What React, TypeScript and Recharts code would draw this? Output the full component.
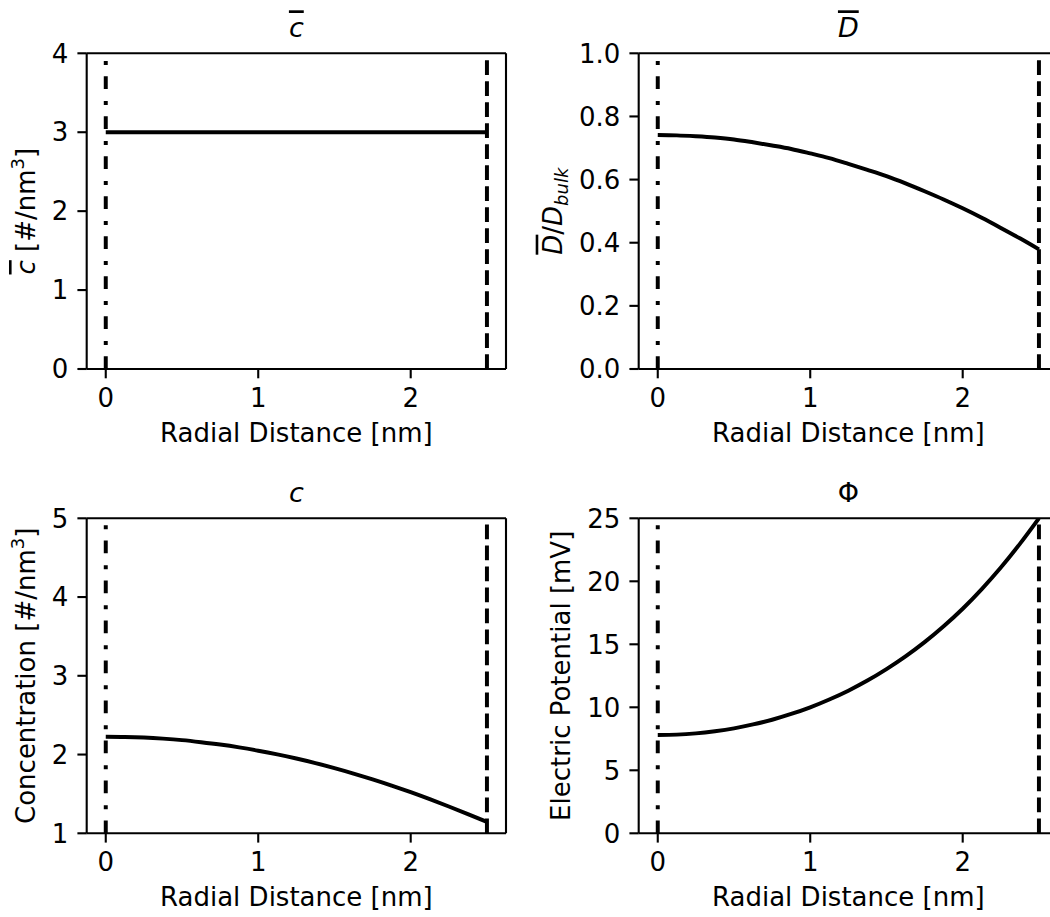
import React from 'react';
import { LineChart, Line, XAxis, YAxis, ReferenceLine } from 'recharts';

// radial positions (nm) and the profiles
const RADIUS = [
  0, 0.125, 0.25, 0.375, 0.5, 0.625, 0.75, 0.875, 1.0, 1.125, 1.25,
  1.375, 1.5, 1.625, 1.75, 1.875, 2.0, 2.125, 2.25, 2.375, 2.5,
];
const C_BAR = [3, 3, 3, 3, 3, 3, 3, 3, 3, 3, 3, 3, 3, 3, 3, 3, 3, 3, 3, 3, 3];
const D_BAR = [
  0.741, 0.74, 0.737, 0.733, 0.727, 0.718, 0.708, 0.697, 0.683, 0.668, 0.65,
  0.631, 0.611, 0.588, 0.563, 0.537, 0.509, 0.479, 0.447, 0.414, 0.379,
];
const CONC = [
  2.227, 2.224, 2.216, 2.202, 2.183, 2.157, 2.127, 2.091, 2.049, 2.002, 1.95,
  1.892, 1.828, 1.759, 1.685, 1.606, 1.522, 1.433, 1.34, 1.243, 1.144,
];
const PHI = [
  7.8, 7.83, 7.93, 8.1, 8.33, 8.64, 9.01, 9.47, 10.0, 10.62, 11.32,
  12.12, 13.03, 14.04, 15.17, 16.43, 17.82, 19.38, 21.09, 22.97, 25.0,
];

const X_TICKS = [0, 1, 2];
const C_BAR_TICKS = [0, 1, 2, 3, 4];
const D_TICKS = [0, 0.2, 0.4, 0.6, 0.8, 1.0];
const CONC_TICKS = [1, 2, 3, 4, 5];
const PHI_TICKS = [0, 5, 10, 15, 20, 25];

const FONT = '"DejaVu Sans", sans-serif';
const FS = 26;
const LW = 3.96;
const SPINE = 2.1;
const TICK_LEN = 9.3;

interface PanelProps {
  left: number;
  top: number;
  width: number;
  height: number;
  plotLeft: number;
  plotRight: number;
  plotTop: number;
  plotBottom: number;
  values: number[];
  yDomain: [number, number];
  yTicks: number[];
  yFormat?: (v: number) => string;
  title: React.ReactNode;
  yLabel: (x: number, y: number) => React.ReactNode;
  yLabelGap: number;
}

const barred = (s: string, key?: string) => (
  <tspan key={key} fontStyle="italic" style={{ textDecoration: 'overline' }}>
    {s}
  </tspan>
);

function rotated(x: number, y: number, children: React.ReactNode) {
  return (
    <text
      x={x}
      y={y}
      transform={`rotate(-90 ${x} ${y})`}
      textAnchor="middle"
      fontSize={FS}
      fontFamily={FONT}
      fill="#000"
    >
      {children}
    </text>
  );
}

function Panel(p: PanelProps) {
  const data = RADIUS.map((r, i) => ({ r, v: p.values[i] }));
  const midX = (p.plotLeft + p.plotRight) / 2;
  const midY = (p.plotTop + p.plotBottom) / 2;

  return (
    <div style={{ position: 'absolute', left: p.left, top: p.top }}>
      <LineChart
        width={p.width}
        height={p.height}
        data={data}
        margin={{ top: p.plotTop, right: p.width - p.plotRight, bottom: 0, left: 0 }}
      >
        <XAxis
          type="number"
          dataKey="r"
          domain={[-0.125, 2.625]}
          ticks={X_TICKS}
          interval={0}
          allowDataOverflow
          height={p.height - p.plotBottom}
          tickSize={TICK_LEN}
          tickMargin={10}
          axisLine={{ stroke: '#000', strokeWidth: SPINE }}
          tickLine={{ stroke: '#000', strokeWidth: SPINE }}
          tick={{ fill: '#000', fontSize: FS, fontFamily: FONT }}
          label={() => (
            <text
              x={midX}
              y={p.plotBottom + 72.7}
              textAnchor="middle"
              fontSize={FS}
              fontFamily={FONT}
              fill="#000"
            >
              Radial Distance [nm]
            </text>
          )}
        />
        <YAxis
          type="number"
          domain={p.yDomain}
          ticks={p.yTicks}
          interval={0}
          allowDataOverflow
          width={p.plotLeft}
          tickSize={TICK_LEN}
          tickMargin={9}
          tickFormatter={p.yFormat}
          axisLine={{ stroke: '#000', strokeWidth: SPINE }}
          tickLine={{ stroke: '#000', strokeWidth: SPINE }}
          tick={{ fill: '#000', fontSize: FS, fontFamily: FONT }}
          label={() => p.yLabel(p.plotLeft - p.yLabelGap, midY)}
        />
        <ReferenceLine
          y={p.yDomain[1]}
          stroke="#000"
          strokeWidth={SPINE}
          label={() => (
            <text
              x={midX}
              y={p.plotTop - 16}
              textAnchor="middle"
              fontSize={27}
              fontFamily={FONT}
              fill="#000"
            >
              {p.title}
            </text>
          )}
        />
        <ReferenceLine x={2.625} stroke="#000" strokeWidth={SPINE} />
        <Line
          type="monotone"
          dataKey="v"
          stroke="#000"
          strokeWidth={LW}
          dot={false}
          activeDot={false}
          isAnimationActive={false}
        />
        <ReferenceLine x={0} stroke="#000" strokeWidth={LW} strokeDasharray="12.7 11.3 4 12" />
        <ReferenceLine x={2.5} stroke="#000" strokeWidth={LW} strokeDasharray="14.7 6.3" />
      </LineChart>
    </div>
  );
}

export default function App() {
  return (
    <div
      style={{
        position: 'absolute',
        left: 0,
        top: 0,
        width: 1050,
        height: 917,
        overflow: 'hidden',
        background: '#fff',
      }}
    >
      <Panel
        left={0}
        top={0}
        width={525}
        height={460}
        plotLeft={86.7}
        plotRight={506}
        plotTop={53.3}
        plotBottom={369}
        values={C_BAR}
        yDomain={[0, 4]}
        yTicks={C_BAR_TICKS}
        title={barred('c')}
        yLabelGap={51.7}
        yLabel={(x, y) =>
          rotated(x, y, [
            barred('c', 'a'),
            <tspan key="b"> [#/nm</tspan>,
            <tspan key="c" dy={-11} fontSize={18}>3</tspan>,
            <tspan key="d" dy={11}>]</tspan>,
          ])
        }
      />
      <Panel
        left={525}
        top={0}
        width={545}
        height={460}
        plotLeft={113.7}
        plotRight={533}
        plotTop={53.3}
        plotBottom={369}
        values={D_BAR}
        yDomain={[0, 1]}
        yTicks={D_TICKS}
        yFormat={(v) => v.toFixed(1)}
        title={barred('D')}
        yLabelGap={77}
        yLabel={(x, y) =>
          rotated(x, y, [
            barred('D', 'a'),
            <tspan key="b">/</tspan>,
            <tspan key="c" fontStyle="italic">D</tspan>,
            <tspan key="d" dy={6} fontSize={18} fontStyle="italic">bulk</tspan>,
          ])
        }
      />
      <Panel
        left={0}
        top={460}
        width={525}
        height={460}
        plotLeft={86.7}
        plotRight={506}
        plotTop={58.3}
        plotBottom={373.3}
        values={CONC}
        yDomain={[1, 5]}
        yTicks={CONC_TICKS}
        title={<tspan fontStyle="italic">c</tspan>}
        yLabelGap={51.7}
        yLabel={(x, y) =>
          rotated(x, y, [
            <tspan key="a">Concentration [#/nm</tspan>,
            <tspan key="b" dy={-11} fontSize={18}>3</tspan>,
            <tspan key="c" dy={11}>]</tspan>,
          ])
        }
      />
      <Panel
        left={525}
        top={460}
        width={545}
        height={460}
        plotLeft={113.7}
        plotRight={533}
        plotTop={58.3}
        plotBottom={373.3}
        values={PHI}
        yDomain={[0, 25]}
        yTicks={PHI_TICKS}
        title={'\u03A6'}
        yLabelGap={68.7}
        yLabel={(x, y) => rotated(x, y, 'Electric Potential [mV]')}
      />
    </div>
  );
}
